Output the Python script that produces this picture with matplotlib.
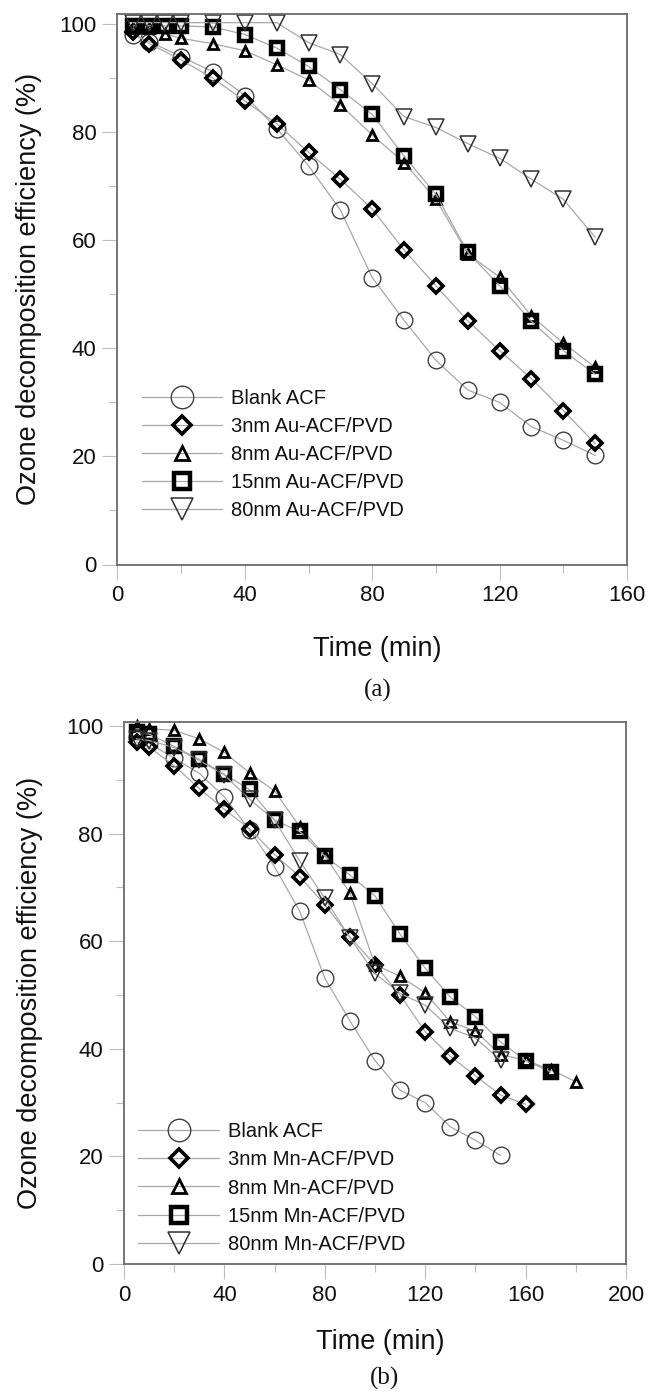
import matplotlib
matplotlib.use("Agg")
import matplotlib.pyplot as plt
from matplotlib.ticker import MultipleLocator

plt.rcParams['font.family'] = ['Liberation Sans', 'DejaVu Sans']

# ---------------- data ----------------
# (a) Au-ACF/PVD
t_blank = [5, 10, 20, 30, 40, 50, 60, 70, 80, 90, 100, 110, 120, 130, 140, 150]
blank_acf = [98.0, 96.8, 94.0, 91.2, 86.8, 80.7, 73.8, 65.6, 53.1, 45.2, 37.8, 32.3, 30.0, 25.5, 23.0, 20.2]

t_au_3 = [5, 10, 20, 30, 40, 50, 60, 70, 80, 90, 100, 110, 120, 130, 140, 150]
au_3nm = [98.5, 96.4, 93.4, 90.0, 85.8, 81.6, 76.3, 71.3, 65.8, 58.2, 51.6, 45.1, 39.6, 34.4, 28.5, 22.4]

t_au = [5, 10, 15, 20, 30, 40, 50, 60, 70, 80, 90, 100, 110, 120, 130, 140, 150]
au_8nm = [99.3, 99.3, 98.2, 97.4, 96.4, 95.1, 92.5, 89.7, 85.1, 79.5, 74.4, 67.6, 57.5, 53.2, 46.0, 41.0, 36.5]
au_15nm = [99.7, 99.7, 99.7, 99.7, 99.5, 98.1, 95.6, 92.2, 87.9, 83.3, 75.6, 68.5, 57.8, 51.6, 45.0, 39.6, 35.2]
au_80nm = [100.3, 100.3, 100.3, 100.3, 100.3, 100.3, 100.3, 96.6, 94.4, 89.0, 82.9, 80.9, 77.9, 75.2, 71.3, 67.6, 60.6]

# (b) Mn-ACF/PVD
t_mn_3 = [5, 10, 20, 30, 40, 50, 60, 70, 80, 90, 100, 110, 120, 130, 140, 150, 160]
mn_3nm = [97.0, 96.1, 92.6, 88.4, 84.5, 80.9, 76.1, 72.0, 66.8, 60.8, 55.6, 50.0, 43.2, 38.6, 35.0, 31.4, 29.7]

t_mn_8 = [5, 10, 20, 30, 40, 50, 60, 70, 80, 90, 100, 110, 120, 130, 140, 150, 160, 170, 180]
mn_8nm = [100.0, 99.5, 99.2, 97.6, 95.1, 91.3, 87.9, 81.3, 75.9, 69.0, 55.6, 53.5, 50.4, 45.0, 43.3, 38.9, 37.9, 36.1, 33.9]

t_mn_15 = [5, 10, 20, 30, 40, 50, 60, 70, 80, 90, 100, 110, 120, 130, 140, 150, 160, 170]
mn_15nm = [98.8, 98.5, 96.2, 93.8, 91.0, 88.2, 82.5, 80.4, 75.8, 72.3, 68.4, 61.3, 55.0, 49.6, 46.0, 41.3, 37.8, 35.7]

t_mn_80 = [5, 10, 20, 30, 40, 50, 60, 70, 80, 90, 100, 110, 120, 130, 140, 150]
mn_80nm = [97.6, 97.3, 96.0, 93.6, 90.9, 86.4, 82.5, 74.9, 68.0, 60.6, 54.0, 50.3, 48.1, 43.8, 42.0, 37.9]

labels_au = ['Blank ACF', '3nm Au-ACF/PVD', '8nm Au-ACF/PVD', '15nm Au-ACF/PVD', '80nm Au-ACF/PVD']
labels_mn = ['Blank ACF', '3nm Mn-ACF/PVD', '8nm Mn-ACF/PVD', '15nm Mn-ACF/PVD', '80nm Mn-ACF/PVD']

# ---------------- styles ----------------
LINE_C = '#a8a8a8'
styles = [
    dict(marker='o', ms=12, mew=1.0, mec='#404040'),
    dict(marker='D', ms=7.0, mew=2.6, mec='black'),
    dict(marker='^', ms=7.5, mew=2.0, mec='black'),
    dict(marker='s', ms=9.0, mew=3.2, mec='black'),
    dict(marker='v', ms=11.5, mew=1.1, mec='#303030'),
]

W, H = 649, 1396
fig = plt.figure(figsize=(W / 100, H / 100), dpi=100)


def px_axes(l, r, t, b):
    return fig.add_axes([l / W, 1 - b / H, (r - l) / W, (b - t) / H])


def style_axes(ax, xmax, ytop):
    ax.set_xlim(0, xmax)
    ax.set_ylim(0, ytop)
    ax.xaxis.set_major_locator(MultipleLocator(40))
    ax.xaxis.set_minor_locator(MultipleLocator(20))
    ax.yaxis.set_major_locator(MultipleLocator(20))
    ax.yaxis.set_minor_locator(MultipleLocator(10))
    ax.tick_params(which='both', direction='out', color='#bdbdbd', width=0.8,
                   labelsize=16, labelcolor='#111111')
    ax.tick_params(which='major', length=11, pad=4)
    ax.tick_params(which='minor', length=5.5)
    for sp in ax.spines.values():
        sp.set_color('#6a6a6a')
        sp.set_linewidth(1.3)
    ax.set_xlabel('Time (min)', fontsize=19.5, color='#111111')
    ax.set_ylabel('Ozone decomposition efficiency (%)', fontsize=19.5, color='#111111')


def draw(ax, series, labels, leg_x, leg_y):
    handles = []
    for (t, v), st, lab in zip(series, styles, labels):
        h, = ax.plot(t, v, color=LINE_C, lw=0.9, mfc='none', clip_on=False,
                     label=lab, **st)
        handles.append(h)
    ax.legend(handles=handles, loc='center left',
              bbox_to_anchor=(leg_x / W, 1 - leg_y / H), bbox_transform=fig.transFigure,
              frameon=False, borderpad=0, borderaxespad=0, handlelength=4.0,
              handletextpad=0.45, labelspacing=0.45, markerscale=1.35,
              fontsize=14.5, labelcolor='#111111')


# (a)
ax1 = px_axes(117.5, 627, 14, 564.5)
style_axes(ax1, 160, 101.9)
draw(ax1, [(t_blank, blank_acf), (t_au_3, au_3nm), (t_au, au_8nm), (t_au, au_15nm), (t_au, au_80nm)],
     labels_au, 141.7, 454.2)
ax1.yaxis.set_label_coords((42 - 117.5) / (627 - 117.5), 0.5)
ax1.xaxis.set_label_coords(0.51, (564.5 - 636) / (564.5 - 14))

# (b)
ax2 = px_axes(124, 626, 721.7, 1264)
style_axes(ax2, 200, 100.8)
draw(ax2, [(t_blank, blank_acf), (t_mn_3, mn_3nm), (t_mn_8, mn_8nm), (t_mn_15, mn_15nm), (t_mn_80, mn_80nm)],
     labels_mn, 138.3, 1188)
ax2.yaxis.set_label_coords((43 - 124) / (626 - 124), 0.5)
ax2.xaxis.set_label_coords(0.51, (1264 - 1329) / (1264 - 721.7))

fig.text(378 / W, 1 - 690 / H, '(a)', ha='center', va='center', fontsize=18,
         family=['Liberation Serif', 'DejaVu Serif'], color='#111111')
fig.text(384 / W, 1 - 1378 / H, '(b)', ha='center', va='center', fontsize=18,
         family=['Liberation Serif', 'DejaVu Serif'], color='#111111')

fig.savefig('out.png', dpi=100)
